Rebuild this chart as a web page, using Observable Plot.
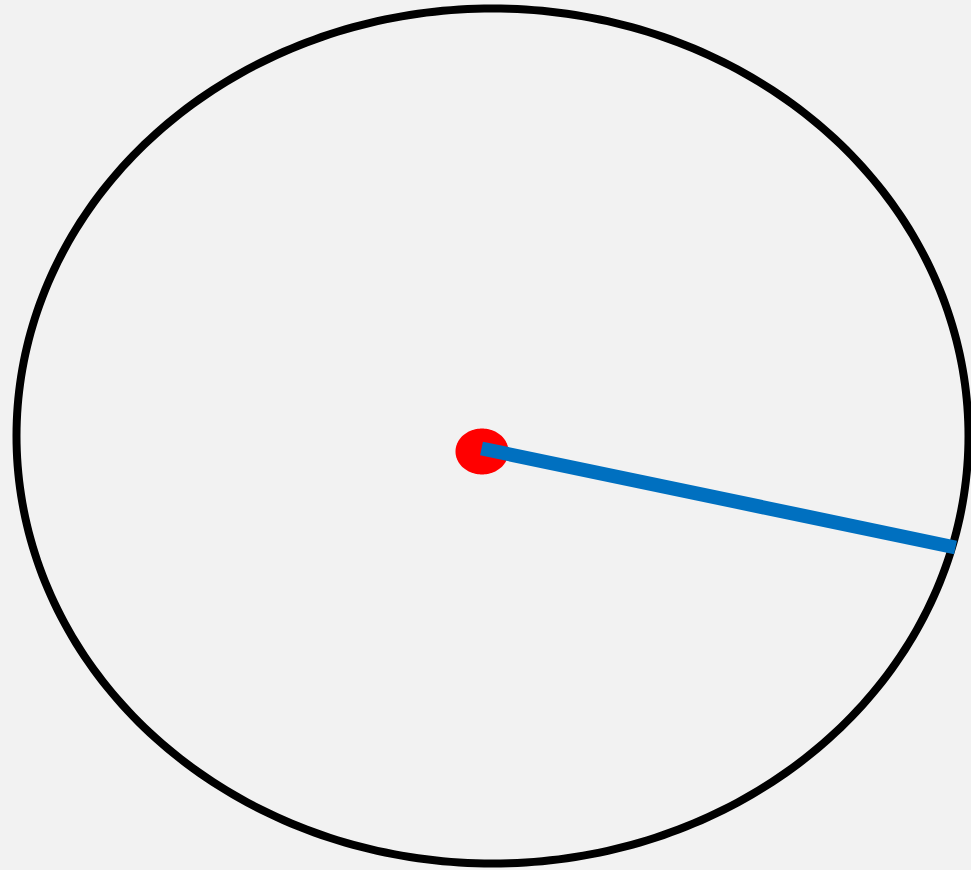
<!DOCTYPE html>
<html>
<head>
<meta charset="utf-8">
<script src="https://cdn.jsdelivr.net/npm/d3@7"></script>
<script src="https://cdn.jsdelivr.net/npm/@observablehq/plot@0.6"></script>
<style>
  html, body { margin: 0; padding: 0; background: #f2f2f2; }
  #chart svg { display: block; }
</style>
</head>
<body>
<div id="chart"></div>
<script>
// Outer ellipse (center and radii, in picture units)
const ellipseCenter = [492, 435.5];
const ellipseRadii = [476, 427.5];
// Red center dot
const dotCenter = [481.5, 451];
const dotRadii = [26.5, 23];
// Blue radius segment: start and end points
const segmentX = [481, 955];
const segmentY = [448, 547];

function outline(center, radii, n = 360) {
  return d3.range(n).map(i => {
    const t = (2 * Math.PI * i) / n;
    return {x: center[0] + radii[0] * Math.cos(t), y: center[1] + radii[1] * Math.sin(t)};
  });
}

const segment = segmentX.map((x, i) => ({x, y: segmentY[i]}));

const chart = Plot.plot({
  width: 971,
  height: 870,
  margin: 0,
  style: {background: "#f2f2f2", overflow: "visible"},
  x: {domain: [0, 971], axis: null},
  y: {domain: [0, 870], reverse: true, axis: null},
  marks: [
    Plot.line(outline(ellipseCenter, ellipseRadii), {x: "x", y: "y", curve: "linear-closed", stroke: "black", strokeWidth: 8, fill: "none"}),
    Plot.line(outline(dotCenter, dotRadii, 120), {x: "x", y: "y", curve: "linear-closed", stroke: "none", fill: "#ff0000"}),
    Plot.line(segment, {x: "x", y: "y", stroke: "#0070c0", strokeWidth: 14, strokeLinecap: "butt"})
  ]
});
document.getElementById("chart").appendChild(chart);
</script>
</body>
</html>
